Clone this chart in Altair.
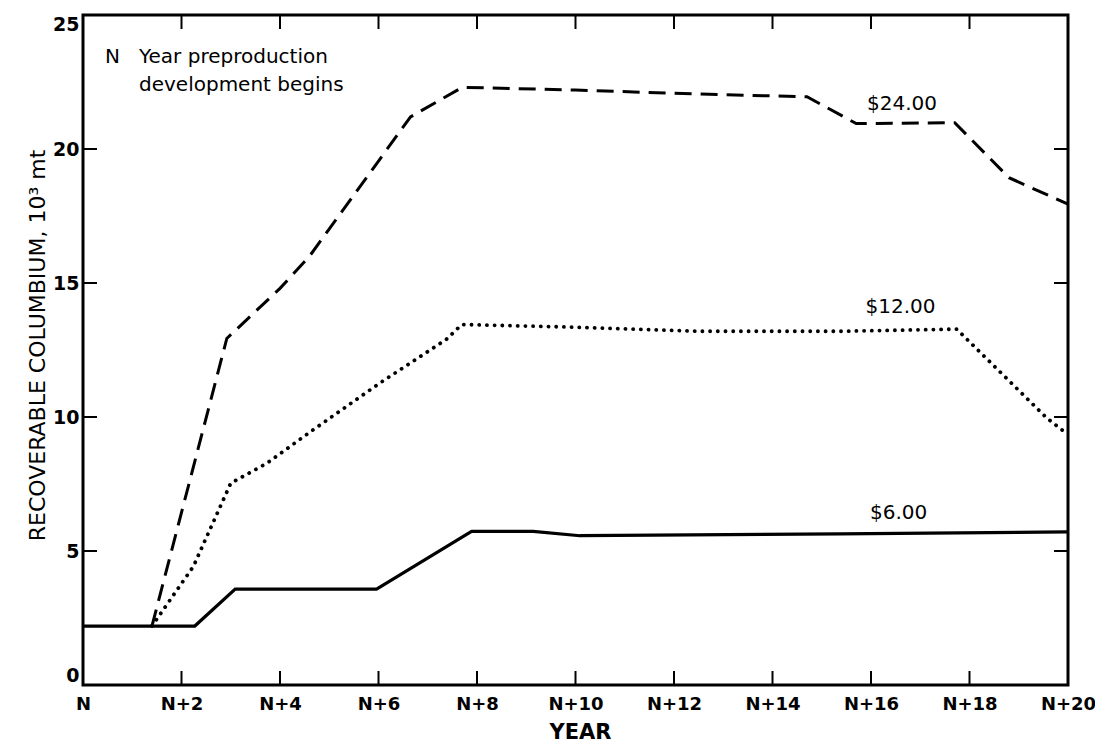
import altair as alt
import pandas as pd

# ---- data (years after N, 10^3 mt) ----
years_24 = [1.4, 2.92, 4.0, 4.6, 6.65, 7.7, 10.0, 12.5, 14.7, 15.7, 17.7, 18.8, 20.0]
vals_24 = [2.2, 12.93, 14.8, 16.0, 21.2, 22.3, 22.2, 22.05, 21.95, 20.95, 20.98, 18.93, 17.94]

years_12 = [1.4, 2.24, 3.0, 3.73, 4.68, 6.03, 7.38, 7.69, 10.0, 12.5, 15.4, 17.74, 19.57, 20.0]
vals_12 = [2.2, 4.42, 7.53, 8.27, 9.53, 11.27, 12.9, 13.45, 13.35, 13.2, 13.2, 13.28, 9.96, 9.34]

years_6 = [0.0, 2.27, 3.09, 5.96, 7.89, 9.14, 10.09, 15.37, 20.0]
vals_6 = [2.2, 2.2, 3.58, 3.58, 5.73, 5.73, 5.57, 5.64, 5.71]

label_texts = ["$24.00", "$12.00", "$6.00"]
label_years = [16.63, 16.6, 16.56]
label_values = [21.67, 14.1, 6.43]

x_tick_values = list(range(0, 21, 2))
inner_x_ticks = list(range(2, 19, 2))
y_tick_values = [0, 5, 10, 15, 20, 25]
inner_y_ticks = [5, 10, 15, 20]

note_key = "N"
note_lines = ["Year preproduction", "development begins"]

W, H = 985, 670
FONT = "DejaVu Sans"
TICK = 14

xscale = alt.Scale(domain=[0, 20], nice=False, zero=False)
yscale = alt.Scale(domain=[0, 25], nice=False, zero=True)

xaxis = alt.Axis(
    values=x_tick_values,
    labelExpr="datum.value == 0 ? 'N' : 'N+' + datum.value",
    ticks=False, domain=False, grid=False,
    labelFont=FONT, labelFontWeight="bold", labelFontSize=18, labelColor="black",
    labelPadding=10, labelFlush=False, labelOverlap=False,
    title="YEAR", titleFont=FONT, titleFontSize=21, titleFontWeight="bold",
    titleColor="black", titleX=497, titleY=47, titleAlign="center", titleBaseline="middle",
)
yaxis = alt.Axis(
    values=y_tick_values,
    ticks=False, domain=False, grid=False,
    labelFont=FONT, labelFontWeight="bold", labelFontSize=19, labelColor="black",
    labelPadding=4, labelOverlap=False, labelFlush=True,
    title="RECOVERABLE COLUMBIUM, 10\u00b3 mt", titleFont=FONT, titleFontSize=22,
    titleFontWeight="normal", titleColor="black", titleAngle=-90,
    titleX=-46, titleY=330, titleAlign="center", titleBaseline="middle",
)

X = alt.X("year:Q", scale=xscale, axis=xaxis)
Y = alt.Y("value:Q", scale=yscale, axis=yaxis)


def series(xs, ys, **kw):
    df = pd.DataFrame({"year": xs, "value": ys})
    return alt.Chart(df).mark_line(color="black", **kw).encode(x=X, y=Y)


line24 = series(years_24, vals_24, strokeWidth=3, strokeDash=[17, 9])
line12 = series(years_12, vals_12, strokeWidth=3.8, strokeDash=[0.1, 7.6], strokeCap="round")
line6 = series(years_6, vals_6, strokeWidth=3.2)

labels = alt.Chart(pd.DataFrame({"year": label_years, "value": label_values, "text": label_texts})).mark_text(
    font=FONT, fontSize=20, color="black", align="center", baseline="middle"
).encode(x=X, y=Y, text="text:N")

# inward tick marks on all four sides
xt = pd.DataFrame({"year": inner_x_ticks})
yt = pd.DataFrame({"value": inner_y_ticks})
bottom_ticks = alt.Chart(xt).mark_rule(color="black", strokeWidth=2).encode(
    x=X, y=alt.value(H - TICK), y2=alt.value(H))
top_ticks = alt.Chart(xt).mark_rule(color="black", strokeWidth=2).encode(
    x=X, y=alt.value(0), y2=alt.value(TICK))
left_ticks = alt.Chart(yt).mark_rule(color="black", strokeWidth=2).encode(
    y=Y, x=alt.value(0), x2=alt.value(TICK))
right_ticks = alt.Chart(yt).mark_rule(color="black", strokeWidth=2).encode(
    y=Y, x=alt.value(W - TICK), x2=alt.value(W))

note_n = alt.Chart(pd.DataFrame({"text": [note_key]})).mark_text(
    font=FONT, fontSize=20, color="black", align="left", baseline="middle"
).encode(text="text:N", x=alt.value(22), y=alt.value(42))
note_1 = alt.Chart(pd.DataFrame({"text": [note_lines[0]]})).mark_text(
    font=FONT, fontSize=20, color="black", align="left", baseline="middle"
).encode(text="text:N", x=alt.value(56), y=alt.value(42))
note_2 = alt.Chart(pd.DataFrame({"text": [note_lines[1]]})).mark_text(
    font=FONT, fontSize=20, color="black", align="left", baseline="middle"
).encode(text="text:N", x=alt.value(56), y=alt.value(70))

chart = alt.layer(
    line6, line12, line24, labels,
    bottom_ticks, top_ticks, left_ticks, right_ticks,
    note_n, note_1, note_2,
).properties(
    width=W, height=H,
    autosize=alt.AutoSizeParams(type="none"),
    padding={"left": 75, "top": 7, "right": 27, "bottom": 62},
    background="white",
).configure_view(stroke="black", strokeWidth=3)

chart.save("out.html", embed_options={"renderer": "svg", "actions": False})
